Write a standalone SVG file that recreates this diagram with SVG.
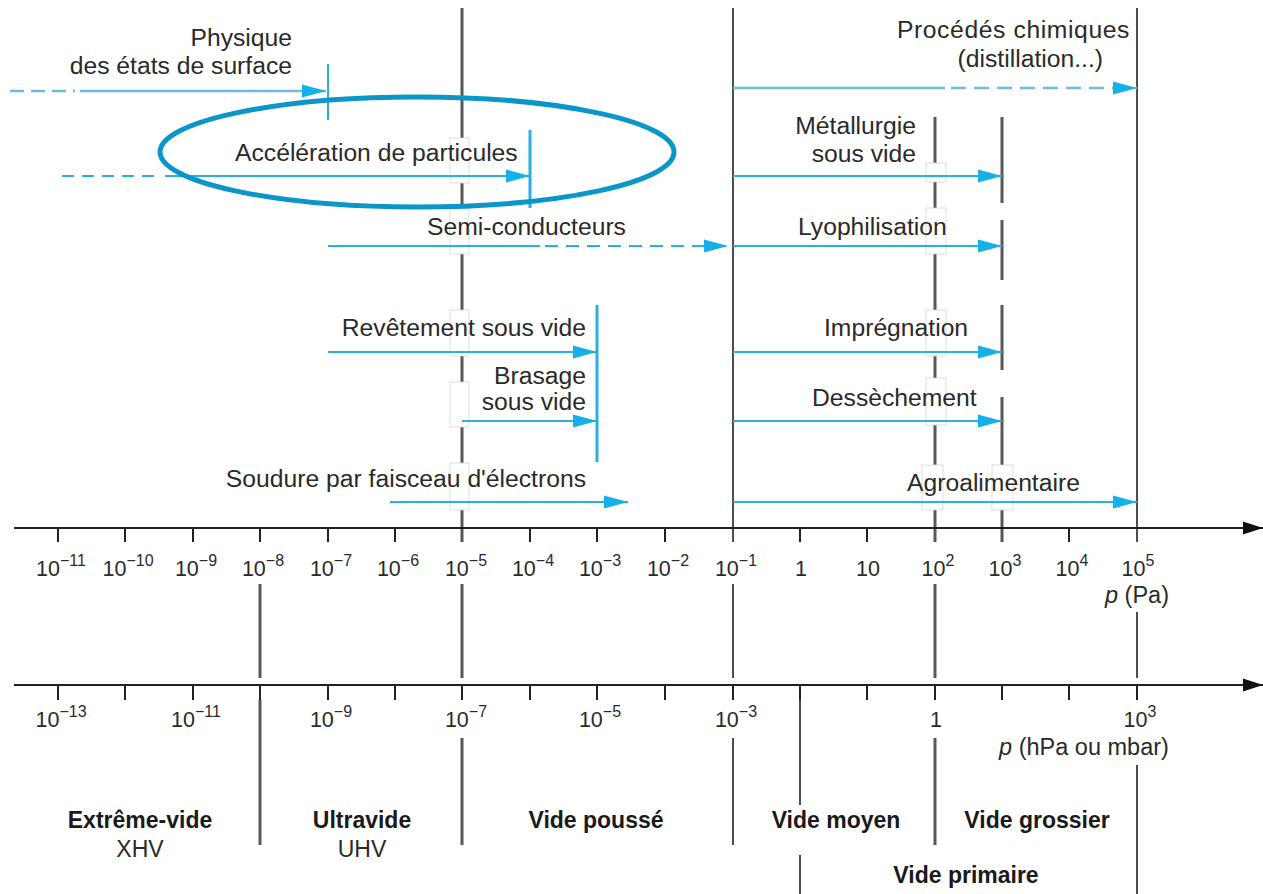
<svg xmlns="http://www.w3.org/2000/svg" width="1263" height="894" viewBox="0 0 1263 894">
<style>
.t{font-family:"Liberation Sans",Arial,sans-serif;font-size:24.7px;fill:#2a2a2a}
.tk{font-family:"Liberation Sans",Arial,sans-serif;font-size:21.5px;fill:#2a2a2a;text-anchor:middle}
.tk tspan{font-size:16px}
.b{font-family:"Liberation Sans",Arial,sans-serif;font-size:23px;font-weight:bold;fill:#1a1a1a;text-anchor:middle}
.n{font-family:"Liberation Sans",Arial,sans-serif;font-size:23px;fill:#2a2a2a;text-anchor:middle}
.pl{font-family:"Liberation Sans",Arial,sans-serif;font-size:23.5px;fill:#2a2a2a;text-anchor:middle}
.g{stroke:#585858;stroke-width:3;fill:none}
.k{stroke:#222;stroke-width:1.6;fill:none}
.ax{stroke:#222;stroke-width:2;fill:none}
.c{stroke:#2AAEE3;stroke-width:2;fill:none}
.cl{stroke:#6CBCDB;stroke-width:2.4;fill:none}
.box{fill:#fff;stroke:#d4d4d4;stroke-width:0.8}
.cv{stroke:#2AAEE3;fill:none}
</style>
<defs>
<marker id="ah" markerUnits="userSpaceOnUse" markerWidth="24" markerHeight="14" refX="24" refY="7" orient="auto">
<path d="M0,0.5 L24,7 L0,13.5 z" fill="#14B0EA"/>
</marker>
<marker id="ax" markerUnits="userSpaceOnUse" markerWidth="20" markerHeight="14" refX="20" refY="7" orient="auto">
<path d="M0,0.5 L20,7 L0,13.5 z" fill="#111"/>
</marker>
</defs>
<rect width="1263" height="894" fill="#fff"/>

<g id="grid">
<path class="g" d="M462,8 V138 M462,183 V208 M462,254 V310 M462,356 V382 M462,427 V463 M462,510 V542"/>
<path class="g" d="M935,117 V163 M935,182 V208 M935,254 V310 M935,356 V378 M935,425 V465 M935,510 V542"/>
<path class="g" d="M1002,117 V203 M1002,220 V280 M1002,305 V370 M1002,397 V465 M1002,510 V542"/>
<path class="k" d="M733,8 V542 M1137,8 V542"/>
<rect class="box" x="450" y="138" width="19" height="45"/>
<rect class="box" x="450" y="208" width="19" height="46"/>
<rect class="box" x="450" y="310" width="19" height="46"/>
<rect class="box" x="450" y="382" width="19" height="45"/>
<rect class="box" x="450" y="463" width="19" height="47"/>
<rect class="box" x="926" y="163" width="20" height="19"/>
<rect class="box" x="926" y="208" width="20" height="46"/>
<rect class="box" x="926" y="310" width="20" height="46"/>
<rect class="box" x="926" y="378" width="20" height="47"/>
<rect class="box" x="922" y="465" width="21" height="45"/>
<rect class="box" x="992" y="465" width="21" height="45"/>
<path class="g" d="M260,584 V678 M462,584 V678 M935,584 V678"/>
<path class="k" d="M733,584 V678 M1137,612 V678"/>
<path class="g" d="M260,700 V845 M462,738 V845 M935,738 V845"/>
<path class="k" d="M733,738 V845 M800,700 V805 M800,855 V894 M1137,765 V894"/>
</g>

<g id="axes">
<path class="ax" d="M14,528 H1263" marker-end="url(#ax)"/>
<path class="ax" d="M14,685 H1263" marker-end="url(#ax)"/>
<path class="ax" d="M58,528 v14 M125,528 v14 M193,528 v14 M260,528 v14 M328,528 v14 M395,528 v14 M530,528 v14 M597,528 v14 M665,528 v14 M800,528 v14 M867,528 v14 M1069,528 v14"/>
<path class="ax" d="M58,685 v15 M125,685 v15 M193,685 v15 M260,685 v15 M328,685 v15 M395,685 v15 M462,685 v15 M530,685 v15 M597,685 v15 M665,685 v15 M733,685 v15 M800,685 v15 M867,685 v15 M935,685 v15 M1002,685 v15 M1069,685 v15 M1137,685 v15"/>
</g>

<g id="ticklabels">
<text class="tk" x="61" y="576">10<tspan dy="-10">−11</tspan></text>
<text class="tk" x="128" y="576">10<tspan dy="-10">−10</tspan></text>
<text class="tk" x="196" y="576">10<tspan dy="-10">−9</tspan></text>
<text class="tk" x="263" y="576">10<tspan dy="-10">−8</tspan></text>
<text class="tk" x="331" y="576">10<tspan dy="-10">−7</tspan></text>
<text class="tk" x="398" y="576">10<tspan dy="-10">−6</tspan></text>
<text class="tk" x="466" y="576">10<tspan dy="-10">−5</tspan></text>
<text class="tk" x="533" y="576">10<tspan dy="-10">−4</tspan></text>
<text class="tk" x="600" y="576">10<tspan dy="-10">−3</tspan></text>
<text class="tk" x="668" y="576">10<tspan dy="-10">−2</tspan></text>
<text class="tk" x="736" y="576">10<tspan dy="-10">−1</tspan></text>
<text class="tk" x="801" y="576">1</text>
<text class="tk" x="868" y="576">10</text>
<text class="tk" x="938" y="576">10<tspan dy="-10">2</tspan></text>
<text class="tk" x="1005" y="576">10<tspan dy="-10">3</tspan></text>
<text class="tk" x="1072" y="576">10<tspan dy="-10">4</tspan></text>
<text class="tk" x="1138" y="576">10<tspan dy="-10">5</tspan></text>
<text class="pl" x="1137" y="603"><tspan font-style="italic">p</tspan> (Pa)</text>
<text class="tk" x="61" y="727">10<tspan dy="-10">−13</tspan></text>
<text class="tk" x="196" y="727">10<tspan dy="-10">−11</tspan></text>
<text class="tk" x="331" y="727">10<tspan dy="-10">−9</tspan></text>
<text class="tk" x="466" y="727">10<tspan dy="-10">−7</tspan></text>
<text class="tk" x="600" y="727">10<tspan dy="-10">−5</tspan></text>
<text class="tk" x="736" y="727">10<tspan dy="-10">−3</tspan></text>
<text class="tk" x="936" y="727">1</text>
<text class="tk" x="1140" y="727">10<tspan dy="-10">3</tspan></text>
<text class="pl" x="1084" y="755"><tspan font-style="italic">p</tspan> (hPa ou mbar)</text>
</g>

<g id="physique">
<path class="cl" d="M10,91 H75" stroke-dasharray="14 7"/>
<path class="cl" d="M80,91 H326" marker-end="url(#ah)"/>
<path class="cv" stroke-width="2" d="M328,64 V120"/>
<text class="t" x="292" y="46" text-anchor="end">Physique</text>
<text class="t" x="292" y="74" text-anchor="end">des états de surface</text>
</g>

<g id="procedes">
<path class="cl" d="M733,88 H945"/>
<path class="cl" d="M951,88 H1137" stroke-dasharray="15 8" marker-end="url(#ah)"/>
<text class="t" x="1130" y="38" text-anchor="end" letter-spacing="0.6">Procédés chimiques</text>
<text class="t" x="1103" y="67" text-anchor="end">(distillation...)</text>
</g>

<g id="acceleration">
<path class="c" d="M62,176 H160" stroke-dasharray="12 8" stroke-width="1.6"/>
<path class="c" d="M165,176 H530" marker-end="url(#ah)"/>
<path class="cv" stroke-width="3" d="M530,130 V208"/>
<text class="t" x="235" y="161">Accélération de particules</text>
</g>

<g id="metallurgie">
<path class="c" d="M733,176 H1002" marker-end="url(#ah)"/>
<text class="t" x="916" y="134" text-anchor="end">Métallurgie</text>
<text class="t" x="916" y="162" text-anchor="end">sous vide</text>
</g>

<g id="semiconducteurs">
<path class="c" d="M328,246 H540"/>
<path class="c" d="M545,246 H728" stroke-dasharray="13 8" marker-end="url(#ah)"/>
<text class="t" x="427" y="235">Semi-conducteurs</text>
</g>

<g id="lyophilisation">
<path class="c" d="M733,246 H1002" marker-end="url(#ah)"/>
<text class="t" x="798" y="235">Lyophilisation</text>
</g>

<g id="revetement">
<path class="c" d="M328,352 H597" marker-end="url(#ah)"/>
<path class="cv" stroke-width="3" d="M597,305 V462"/>
<text class="t" x="586" y="336" text-anchor="end">Revêtement sous vide</text>
</g>

<g id="impregnation">
<path class="c" d="M733,352 H1002" marker-end="url(#ah)"/>
<text class="t" x="824" y="336">Imprégnation</text>
</g>

<g id="brasage">
<path class="c" d="M462,421 H597" marker-end="url(#ah)"/>
<text class="t" x="586" y="384" text-anchor="end">Brasage</text>
<text class="t" x="586" y="410" text-anchor="end">sous vide</text>
</g>

<g id="dessechement">
<path class="c" d="M733,421 H1002" marker-end="url(#ah)"/>
<text class="t" x="812" y="406">Dessèchement</text>
</g>

<g id="soudure">
<path class="c" d="M390,502 H628" marker-end="url(#ah)"/>
<text class="t" x="586" y="487" text-anchor="end">Soudure par faisceau d'électrons</text>
</g>

<g id="agroalimentaire">
<path class="c" d="M733,502 H1137" marker-end="url(#ah)"/>
<text class="t" x="907" y="491">Agroalimentaire</text>
</g>

<g id="ranges">
<text class="b" x="140" y="828">Extrême-vide</text>
<text class="n" x="140" y="857">XHV</text>
<text class="b" x="362" y="828">Ultravide</text>
<text class="n" x="362" y="857">UHV</text>
<text class="b" x="596" y="828">Vide poussé</text>
<text class="b" x="836" y="828">Vide moyen</text>
<text class="b" x="1037" y="828">Vide grossier</text>
<text class="b" x="966" y="883">Vide primaire</text>
</g>

<g id="highlight">
<ellipse cx="417" cy="152" rx="257" ry="55" fill="none" stroke="#0A96C8" stroke-width="5"/>
</g>
</svg>
